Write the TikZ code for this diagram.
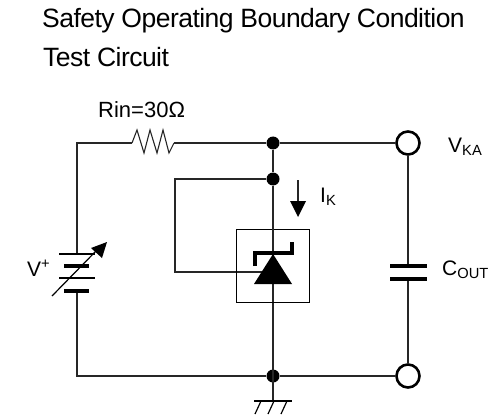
\documentclass[tikz,border=0pt]{standalone}
\usepackage{fontspec}
\setmainfont{Liberation Sans}
\newfontfamily\titlefont[LetterSpace=-2]{Liberation Sans}
\usetikzlibrary{calc,positioning,arrows}
\tikzset{dot/.style={circle,fill=black,inner sep=0pt,minimum size=13pt}}
\tikzset{term/.style={circle,draw=black,line width=2.6pt,fill=white,inner sep=0pt,minimum size=23pt}}
\tikzstyle{wire}=[line width=1.1pt, black!85]
\tikzstyle{thickplate}=[line width=3.6pt]
\tikzstyle{thinplate}=[line width=1.2pt]
\tikzstyle{lbl}=[inner sep=0pt, anchor=base west, font=\fontsize{21}{21}\selectfont]
\tikzstyle{ttl}=[inner sep=0pt, anchor=base west, font=\titlefont\fontsize{26.5}{26.5}\selectfont]
\begin{document}
\begin{tikzpicture}[x=1pt,y=-1pt]
\useasboundingbox (0,0) rectangle (494,414);
% title
\node[ttl] (T1) at (42,28) {Safety Operating Boundary Condition};
\node[ttl] (T2) at (43,67) {Test Circuit};
% corners and junctions
\node[dot] (J1) at (273,143){};
\node[dot] (J2) at (273,179){};
\node[dot] (J3) at (273,376){};
\node[term] (VKA) at (408,143){};
\node[term] (VSS) at (408,376){};
\coordinate (TL) at (77,143);
\coordinate (BL) at (77,376);
\coordinate (RA) at (132,143);
\coordinate (RB) at (174,143);
\coordinate (BatA) at (77,254);
\coordinate (BatB) at (77,291);
\coordinate (CapA) at (408,266);
\coordinate (CapB) at (408,279);
\coordinate (LoopA) at (175,179);
\coordinate (LoopB) at (175,272);
\coordinate (Gate) at (262,272);
\coordinate (Gnd) at (273,401);
% wires
\draw[wire] (BatA) -- (TL) -- (RA);
\draw[wire] (RB) -- (J1);
\draw[wire] (RA) -- (137,130) -- (144,153) -- (150,130) -- (157,153) -- (163,130) -- (169,153) -- (RB);
\draw[wire] (J1) -- (VKA);
\draw[wire] (VKA) -- (CapA);
\draw[wire] (CapB) -- (VSS);
\draw[wire] (VSS) -- (J3) -- (BL) -- (BatB);
\draw[wire] (J1) -- (J2) -- (Gnd);
\draw[wire] (J2) -- (LoopA) -- (LoopB) -- (Gate);
% device
\node[draw,line width=1pt,minimum size=73pt,inner sep=0pt] (Box) at (272.5,265.5){};
\draw[wire] (J2) -- (273,255);
\fill (273,254) -- (292,284) -- (254,284) -- cycle;
\draw[thickplate,line join=miter] (255,266) -- (255,253) -- (292,253) -- (292,242);
% battery
\draw[thinplate] (59,254) -- (95,254);
\draw[thickplate] (64,266) -- (89,266);
\draw[thinplate] (59,278) -- (95,278);
\draw[thickplate] (64,291) -- (89,291);
\draw[thinplate] (52,296) -- (96,251);
\fill (107,242) -- (91,248) -- (102,258) -- cycle;
% capacitor
\draw[line width=4pt] (390,266) -- (427,266);
\draw[line width=4pt] (390,279) -- (427,279);
% current arrow
\draw[wire] (298,180) -- (298,203);
\fill (290,201) -- (306,201) -- (298,217) -- cycle;
% ground
\draw[thinplate] (254,401) -- (292,401);
\foreach \x in {261,274,287} \draw[thinplate] (\x,401) -- (\x-6,414);
% labels
\node[lbl,font=\fontsize{22}{22}\selectfont] (Rin) at (98,118) {Rin=30Ω};
\node[lbl] (Vplus) at (27,276) {V\textsuperscript{+}};
\node[lbl] (VKAl) at (448,152) {V\textsubscript{KA}};
\node[lbl] (IK) at (320,202) {I\textsubscript{K}};
\node[lbl] (COUT) at (442,275) {C\textsubscript{OUT}};
\end{tikzpicture}
\end{document}
